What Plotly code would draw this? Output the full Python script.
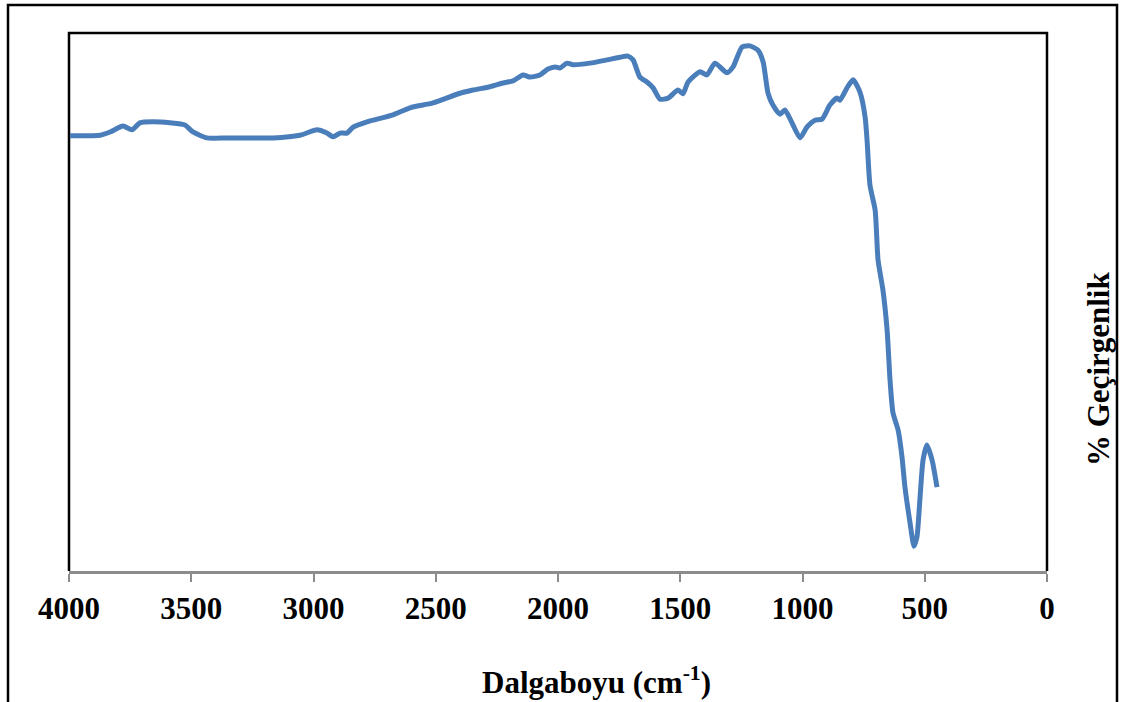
import plotly.graph_objects as go

# Wavenumber (cm-1) and % transmittance
wavenumber = [3996, 3873, 3832, 3779, 3742, 3710, 3656, 3587, 3526, 3493, 3436, 3354, 3219,
              3166, 3055, 2986, 2945, 2920, 2892, 2863, 2838, 2781, 2675, 2605, 2511, 2401,
              2348, 2278, 2225, 2184, 2143, 2114, 2074, 2041, 2012, 1992, 1963, 1939, 1869,
              1800, 1746, 1714, 1693, 1665, 1636, 1611, 1583, 1550, 1509, 1489, 1468, 1419,
              1391, 1358, 1309, 1284, 1247, 1215, 1182, 1161, 1141, 1121, 1092, 1072, 1043,
              1010, 982, 949, 920, 888, 859, 847, 818, 793, 765, 744, 736, 724, 703, 691,
              671, 654, 642, 630, 609, 593, 581, 560, 544, 532, 519, 507, 491, 470, 450]
transmittance = [80.9, 81.0, 81.6, 82.7, 82.0, 83.3, 83.5, 83.3, 82.9, 81.6, 80.5, 80.5, 80.5,
                 80.5, 81.0, 82.0, 81.4, 80.7, 81.4, 81.4, 82.5, 83.5, 84.8, 86.1, 87.0, 88.8,
                 89.4, 90.0, 90.7, 91.1, 92.2, 91.8, 92.2, 93.3, 93.7, 93.5, 94.4, 94.1, 94.4,
                 95.0, 95.5, 95.7, 95.0, 91.8, 90.9, 89.8, 87.7, 87.9, 89.4, 88.7, 90.9, 92.8,
                 92.2, 94.4, 92.6, 93.7, 97.4, 97.6, 96.8, 94.6, 88.8, 86.6, 84.9, 85.7, 83.3,
                 80.5, 82.5, 83.8, 84.0, 86.6, 87.9, 87.5, 89.8, 91.3, 89.0, 84.4, 80.1, 71.7,
                 67.1, 57.8, 52.2, 44.8, 35.5, 29.4, 26.2, 21.2, 15.6, 8.9, 4.6, 6.3, 13.8,
                 20.6, 23.4, 20.6, 15.6]

x_ticks = [4000, 3500, 3000, 2500, 2000, 1500, 1000, 500, 0]
x_title = "Dalgaboyu (cm<sup>-1</sup>)"
y_title = "% Geçirgenlik"

FONT = "Liberation Serif"
W, H = 1122, 702
L, R, T, B = 69, 75, 33, 131
PW, PH = W - L - R, H - T - B


def px(x):
    return (x - L) / PW


def py(y):
    return (H - B - y) / PH


fig = go.Figure()
fig.add_trace(go.Scatter(
    x=wavenumber, y=transmittance, mode="lines",
    line=dict(color="#4A7EBB", width=5, shape="spline", smoothing=0.6),
    showlegend=False, hoverinfo="skip",
))

shapes = [
    # outer border
    dict(type="path", xref="paper", yref="paper",
         path=f"M {px(8)},{py(720)} L {px(8)},{py(5)} L {px(1117)},{py(5)} L {px(1117)},{py(720)}",
         line=dict(color="black", width=2.5), layer="above"),
    # plot frame (top, left, right)
    dict(type="path", xref="paper", yref="paper",
         path="M 0,0 L 0,1 L 1,1 L 1,0",
         line=dict(color="black", width=2.5), layer="below"),
]

annotations = [
    dict(text=f"<b>{x_title}</b>", xref="paper", yref="paper", x=px(596), y=py(681),
         xanchor="center", yanchor="middle", showarrow=False,
         font=dict(family=FONT, size=31, color="black")),
    dict(text=f"<b>{y_title}</b>", xref="paper", yref="paper", x=px(1098), y=py(369),
         xanchor="center", yanchor="middle", showarrow=False, textangle=-90,
         font=dict(family=FONT, size=31, color="black")),
]

fig.update_layout(
    width=W, height=H,
    margin=dict(l=L, r=R, t=T, b=B),
    paper_bgcolor="white", plot_bgcolor="white",
    shapes=shapes, annotations=annotations,
    xaxis=dict(range=[4000, 0], tickvals=x_ticks, ticktext=[f"<b>{v}</b>" for v in x_ticks],
               showgrid=False, zeroline=False, showline=True, linecolor="#8C8C8C", linewidth=2.5,
               ticks="outside", ticklen=8, tickwidth=2, tickcolor="#8C8C8C",
               tickfont=dict(family=FONT, size=31, color="black")),
    yaxis=dict(range=[0, 100], showgrid=False, zeroline=False, showticklabels=False,
               showline=False, ticks=""),
)

fig.write_html("out.html")
